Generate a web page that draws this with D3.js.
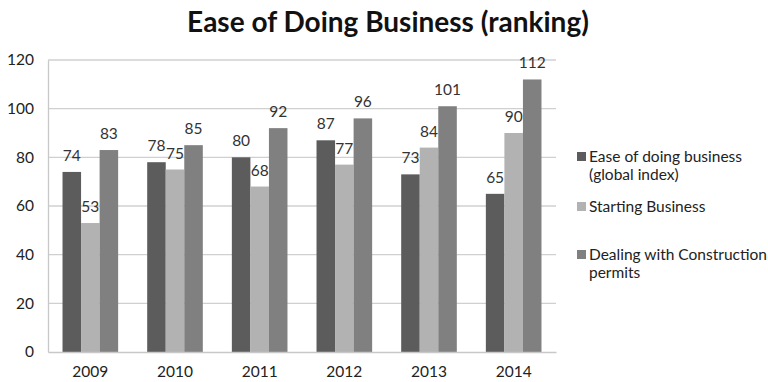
<!DOCTYPE html>
<html><head><meta charset="utf-8">
<script src="https://cdn.jsdelivr.net/npm/d3@7"></script>
<style>body{margin:0;background:#fff}svg{display:block}text{font-family:Lato,"Open Sans",sans-serif}</style>
</head><body><svg id="c" width="768" height="382"></svg>
<script>
const years = ["2009","2010","2011","2012","2013","2014"];
const seriesNames = ["Ease of doing business (global index)","Starting Business","Dealing with Construction permits"];
const easeOfDoing = [74,78,80,87,73,65];
const startingBusiness = [53,75,68,77,84,90];
const constructionPermits = [83,85,92,96,101,112];
const yTicks = [0,20,40,60,80,100,120];
const colors = ["#5c5c5c","#b2b2b2","#808080"];
const legendLines = [["Ease of doing business","(global index)"],["Starting Business"],["Dealing with Construction","permits"]];

const series = [easeOfDoing, startingBusiness, constructionPermits];
const svg = d3.select("#c");
const L = 48, R = 556, T = 60, B = 352;

svg.append("text").attr("x",388).attr("y",32).attr("text-anchor","middle")
  .attr("font-size",28).attr("font-weight","bold").attr("fill","#111")
  .text("Ease of Doing Business (ranking)");

const y = d3.scaleLinear().domain([0,120]).range([B,T]);
const x0 = d3.scaleBand().domain(years).range([L,R]).paddingInner(0.343).paddingOuter(0.1715);
const x1 = d3.scaleBand().domain(d3.range(series.length)).range([0,x0.bandwidth()]);

// gridlines
svg.append("g").selectAll("line").data(yTicks.filter(d=>d>0)).join("line")
  .attr("x1",L).attr("x2",R).attr("y1",d=>y(d)).attr("y2",d=>y(d))
  .attr("stroke","#d0d0d0").attr("stroke-width",1.3);

// y axis
const ya = svg.append("g").attr("transform",`translate(${L},0)`)
  .call(d3.axisLeft(y).tickValues(yTicks).tickSize(0).tickPadding(14));
ya.select(".domain").attr("stroke","#c8c8c8").attr("stroke-width",1.3);
ya.selectAll("text").attr("font-size",15.5).attr("fill","#222").attr("font-family","Lato, sans-serif");

// bars
const g = svg.append("g");
years.forEach((yr,i)=>{
  series.forEach((s,j)=>{
    g.append("rect").attr("x",x0(yr)+x1(j)).attr("width",x1.bandwidth())
      .attr("y",y(s[i])).attr("height",B-y(s[i])).attr("fill",colors[j]);
    g.append("text").attr("x",x0(yr)+x1(j)+x1.bandwidth()/2).attr("y",y(s[i])-11)
      .attr("text-anchor","middle").attr("font-size",15.5).attr("fill","#333").text(s[i]);
  });
});

// x axis
const xa = svg.append("g").attr("transform",`translate(0,${B})`)
  .call(d3.axisBottom(x0).tickSize(0).tickPadding(14).tickSizeOuter(0));
xa.select(".domain").attr("stroke","#c8c8c8").attr("stroke-width",1.3);
xa.selectAll("text").attr("font-size",15.5).attr("fill","#222").attr("font-family","Lato, sans-serif");

// legend
const legY = [157,207,255];
legendLines.forEach((lines,j)=>{
  svg.append("rect").attr("x",577).attr("y",legY[j]-5).attr("width",9).attr("height",9).attr("fill",colors[j]);
  lines.forEach((ln,k)=>{
    svg.append("text").attr("x",589).attr("y",legY[j]+5+k*18).attr("font-size",15.5).attr("fill","#222").text(ln);
  });
});
</script></body></html>
